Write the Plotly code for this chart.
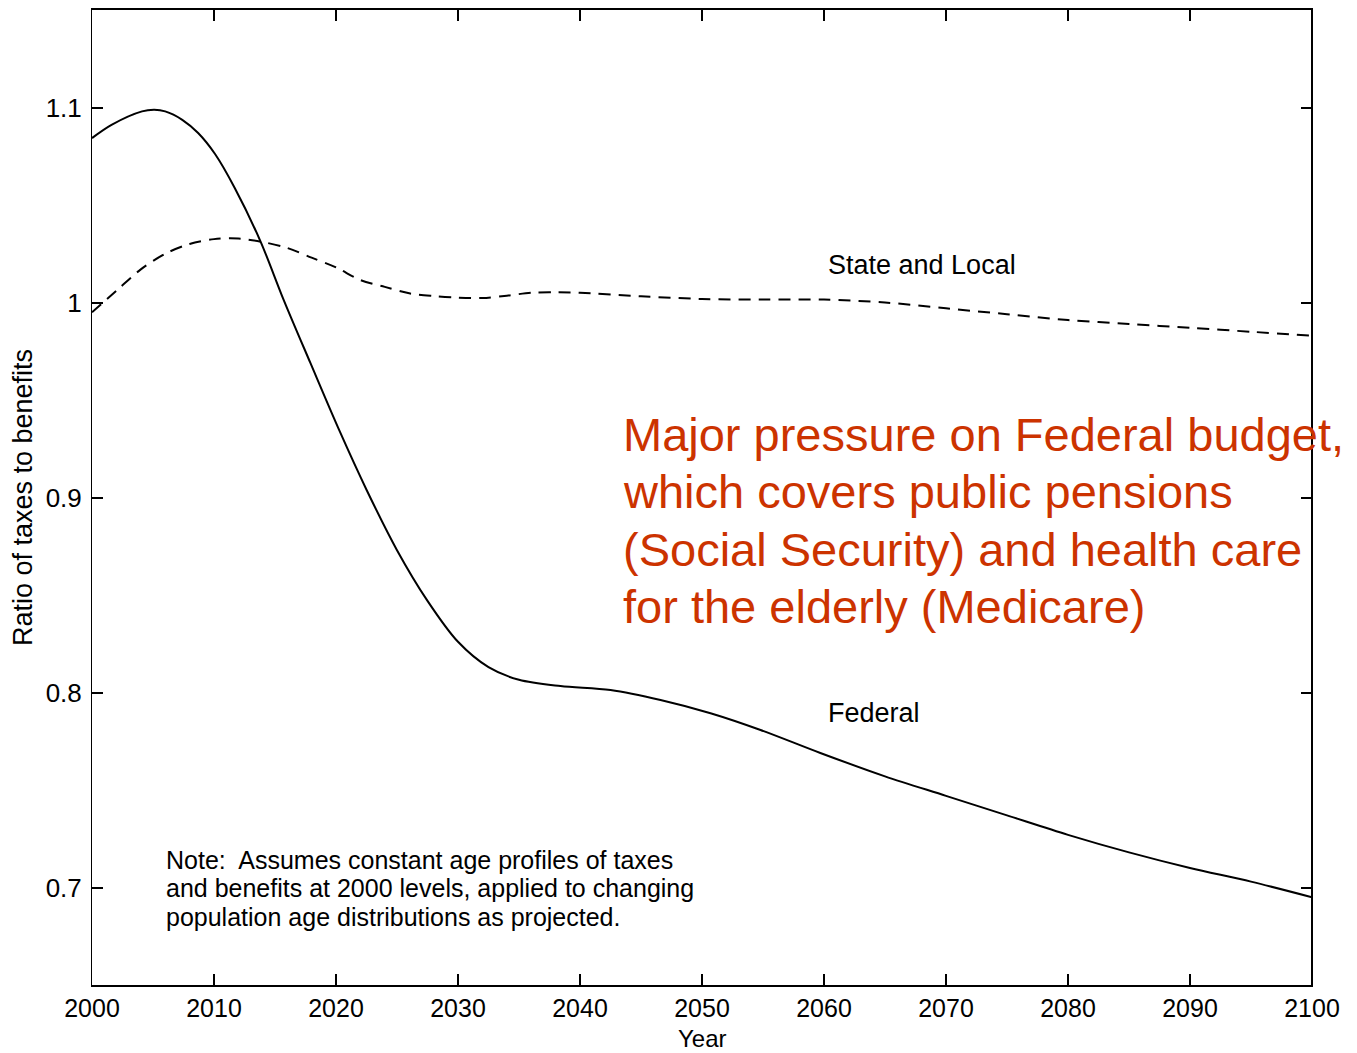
import plotly.graph_objects as go

years_fed = [2000, 2001.6, 2004.1, 2005.1, 2006, 2007.4, 2008.7, 2010.1, 2011.7, 2013.8, 2015.7,
             2017.9, 2020.3, 2022.5, 2025, 2027.5, 2030, 2032.5, 2035, 2038.4, 2042.5, 2046.6,
             2050.7, 2054.8, 2059.7, 2065, 2070, 2075, 2080, 2085, 2090, 2095, 2100]
federal = [1.0843, 1.0911, 1.098, 1.0988, 1.098, 1.0937, 1.0869, 1.0760, 1.0587, 1.0315, 1.0015,
           0.969, 0.934, 0.904, 0.873, 0.847, 0.826, 0.813, 0.8065, 0.8033, 0.8013, 0.7962,
           0.7894, 0.7808, 0.769, 0.757, 0.747, 0.737, 0.727, 0.718, 0.710, 0.703, 0.695]

years_sl = [2000, 2002, 2004, 2006, 2008, 2010, 2012, 2014, 2016, 2018, 2020, 2022, 2024, 2026,
            2028, 2030, 2032, 2034, 2036, 2038, 2040, 2045, 2050, 2055, 2060, 2065, 2070, 2075,
            2080, 2085, 2090, 2095, 2100]
state_local = [0.995, 1.006, 1.017, 1.025, 1.030, 1.0325, 1.0328, 1.031, 1.028, 1.023, 1.018, 1.0115,
               1.008, 1.0047, 1.0033, 1.0025, 1.0023, 1.0035, 1.005, 1.0052, 1.005, 1.0032, 1.0018,
               1.0015, 1.0015, 1.000, 0.997, 0.994, 0.991, 0.989, 0.987, 0.985, 0.983]

x_ticks = list(range(2000, 2101, 10))
y_ticks = [0.7, 0.8, 0.9, 1.0, 1.1]
y_tick_labels = ["0.7", "0.8", "0.9", "1", "1.1"]

note_lines = ["Note:  Assumes constant age profiles of taxes",
              "and benefits at 2000 levels, applied to changing",
              "population age distributions as projected."]
note_y = [0.7143, 0.6995, 0.6847]

red_lines = ["Major pressure on Federal budget,",
             "which covers public pensions",
             "(Social Security) and health care",
             "for the elderly (Medicare)"]
red_y = [0.9322, 0.9031, 0.8734, 0.8442]

FONT = "Liberation Sans, Arial, sans-serif"

fig = go.Figure()
fig.add_trace(go.Scatter(x=years_fed, y=federal, mode="lines",
                         line=dict(color="black", width=2, shape="spline", smoothing=0.9),
                         name="Federal", showlegend=False))
fig.add_trace(go.Scatter(x=years_sl, y=state_local, mode="lines",
                         line=dict(color="black", width=2, dash="12px,8px", shape="spline", smoothing=0.9),
                         name="State and Local", showlegend=False))

fig.add_annotation(x=2060.2, y=1.019, xref="x", yref="y", text="State and Local", showarrow=False,
                   xanchor="left", yanchor="middle", font=dict(size=27, color="black", family=FONT))
fig.add_annotation(x=2060.2, y=0.7895, xref="x", yref="y", text="Federal", showarrow=False,
                   xanchor="left", yanchor="middle", font=dict(size=27, color="black", family=FONT))
for txt, yy in zip(note_lines, note_y):
    fig.add_annotation(x=2005.9, y=yy, xref="x", yref="y", text=txt, showarrow=False,
                       xanchor="left", yanchor="middle", align="left",
                       font=dict(size=25, color="black", family=FONT))
for txt, yy in zip(red_lines, red_y):
    fig.add_annotation(x=2043.4, y=yy, xref="x", yref="y", text=txt, showarrow=False,
                       xanchor="left", yanchor="middle", align="left",
                       font=dict(size=47, color="#CC3300", family=FONT))

# x-axis title placed just under the tick labels
fig.add_annotation(x=0.5, y=-0.0545, xref="paper", yref="paper", text="Year", showarrow=False,
                   xanchor="center", yanchor="middle", font=dict(size=24, color="black", family=FONT))

# thick right border
fig.add_shape(type="line", xref="paper", yref="paper", x0=1, x1=1, y0=0, y1=1,
              line=dict(color="black", width=2))

fig.update_xaxes(range=[2000, 2100], tickvals=x_ticks, ticks="inside", ticklen=11, tickwidth=2,
                 tickcolor="black", showline=True, linecolor="black", linewidth=2, mirror="ticks",
                 showgrid=False, zeroline=False, ticklabelstandoff=0,
                 tickfont=dict(size=25, color="black", family=FONT))
fig.update_yaxes(range=[0.65, 1.15], tickvals=y_ticks, ticktext=y_tick_labels, ticks="inside", ticklen=11,
                 tickwidth=2, tickcolor="black", showline=True, linecolor="black", linewidth=1, mirror="ticks",
                 showgrid=False, zeroline=False, ticklabelstandoff=4,
                 tickfont=dict(size=26, color="black", family=FONT),
                 title=dict(text="Ratio of taxes to benefits", font=dict(size=27, color="black", family=FONT),
                            standoff=8))

# page body adds an 8px margin at top/left; compensate so the plot area sits at
# x 92..1312, y 8..985 in the window
fig.update_layout(width=1357, height=1053, margin=dict(l=84, r=53, t=0, b=76),
                  plot_bgcolor="white", paper_bgcolor="white", showlegend=False)

fig.write_html("out.html")
